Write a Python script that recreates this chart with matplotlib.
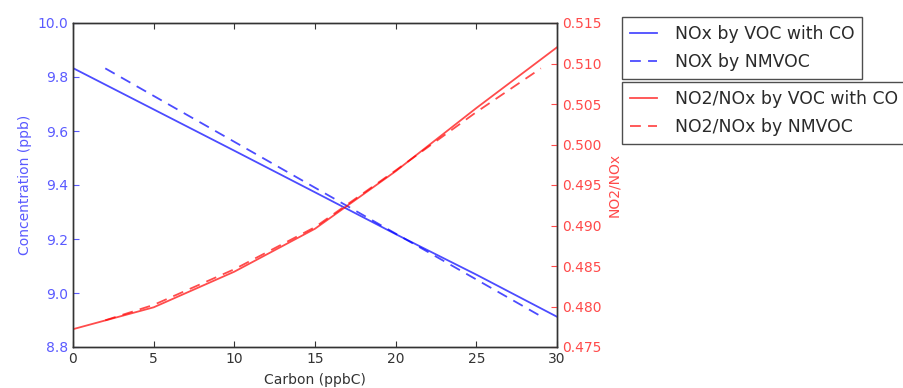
import matplotlib
matplotlib.use("Agg")
import matplotlib.pyplot as plt

# carbon added (ppbC)
carbon_co = [0, 5, 10, 15, 20, 25, 30]
carbon_nm = [2, 5, 10, 15, 20, 25, 29]

# NOx concentration (ppb)
nox_co = [9.833, 9.680, 9.527, 9.373, 9.218, 9.068, 8.912]
nox_nm = [9.832, 9.730, 9.560, 9.390, 9.220, 9.050, 8.914]

# NO2/NOx ratio
ratio_co = [0.4772, 0.4799, 0.4843, 0.4896, 0.4967, 0.5045, 0.5120]
ratio_nm = [0.4783, 0.4802, 0.4846, 0.4898, 0.4968, 0.5040, 0.5094]

blue_txt = '#5a5aff'
red_txt = '#ff4a4a'

plt.rcParams['font.family'] = 'DejaVu Sans'
fig = plt.figure(figsize=(9.04, 3.88), dpi=100)
ax1 = fig.add_axes([73/904, 41/388, 484/904, 324/388])
ax2 = ax1.twinx()

l1, = ax1.plot(carbon_co, nox_co, color='b', alpha=0.7, lw=1.3, label='NOx by VOC with CO')
l2, = ax1.plot(carbon_nm, nox_nm, color='b', alpha=0.7, lw=1.3, dashes=(6, 4), label='NOX by NMVOC')
l3, = ax2.plot(carbon_co, ratio_co, color='r', alpha=0.7, lw=1.3, label='NO2/NOx by VOC with CO')
l4, = ax2.plot(carbon_nm, ratio_nm, color='r', alpha=0.7, lw=1.3, dashes=(6, 4), label='NO2/NOx by NMVOC')

ax1.set_xlim(0, 30)
ax1.set_ylim(8.8, 10.0)
ax2.set_ylim(0.475, 0.515)
ax1.set_xticks([0, 5, 10, 15, 20, 25, 30])
ax1.set_yticks([8.8, 9.0, 9.2, 9.4, 9.6, 9.8, 10.0])
ax2.set_yticks([0.475, 0.480, 0.485, 0.490, 0.495, 0.500, 0.505, 0.510, 0.515])

ax1.set_xlabel('Carbon (ppbC)', fontsize=10, color='#333333', labelpad=5)
ax1.set_ylabel('Concentration (ppb)', fontsize=10, color=blue_txt)
ax2.set_ylabel('NO2/NOx', fontsize=10, color=red_txt)

ax1.tick_params(axis='x', direction='in', length=4, top=True, labelsize=10, labelcolor='#333333', color='#333333')
ax1.tick_params(axis='y', direction='in', length=4, labelsize=10, labelcolor=blue_txt, color=blue_txt)
ax2.tick_params(axis='y', direction='in', length=4, labelsize=10, labelcolor=red_txt, color=red_txt)
for ax in (ax1, ax2):
    for s in ax.spines.values():
        s.set_color('#333333')
        s.set_linewidth(1.0)

leg_kw = dict(fontsize=12.4, frameon=True, fancybox=False, handlelength=1.6,
              handletextpad=1.0, borderpad=0.45, labelspacing=0.6, borderaxespad=0)
leg1 = fig.legend(handles=[l1, l2], loc='upper left', bbox_to_anchor=(622/904, 1 - 17/388), **leg_kw)
leg2 = fig.legend(handles=[l3, l4], loc='upper left', bbox_to_anchor=(622/904, 1 - 82/388), **leg_kw)
for leg in (leg1, leg2):
    leg.get_frame().set_edgecolor('#222222')
    leg.get_frame().set_linewidth(1.0)
    for t in leg.get_texts():
        t.set_color('#2a2a2a')

fig.savefig('out.png', dpi=100)
